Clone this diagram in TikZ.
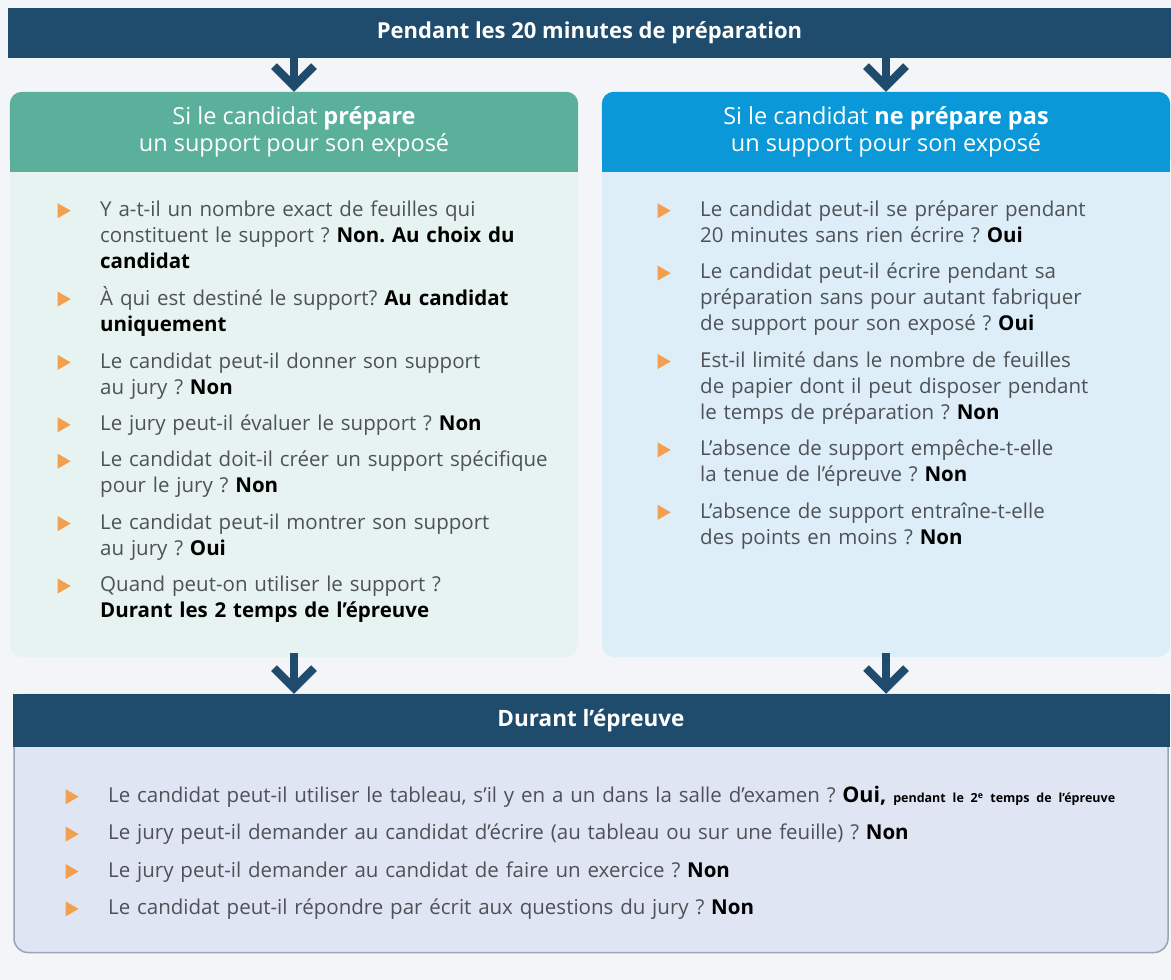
\documentclass[tikz,border=0pt]{standalone}
\usepackage{fontspec}
\setmainfont{Open Sans}
\frenchspacing
\usetikzlibrary{
  shapes.geometric,
  arrows.meta,
  positioning
}

\definecolor{pagebg}{HTML}{F4F5F9}
\definecolor{darkblue}{HTML}{1F4C6D}
\definecolor{headgreen}{HTML}{5BB09B}
\definecolor{bodygreen}{HTML}{E7F3F0}
\definecolor{headblue}{HTML}{0B98D8}
\definecolor{bodyblue}{HTML}{DDEEF8}
\definecolor{bodylav}{HTML}{E0E5F4}
\definecolor{bordergray}{HTML}{9AA4B4}
\definecolor{bulletorange}{HTML}{F2A050}
\definecolor{textgray}{HTML}{4E5256}

\newcommand{\answer}[1]{\textcolor{black}{\textbf{#1}}}

\tikzset{
  banner/.style = {fill=darkblue, text=white, inner sep=0pt,
    font=\fontsize{22}{26}\selectfont\bfseries},
  card/.style = {rounded corners=12pt, inner sep=0pt,
    minimum width=568pt, minimum height=565pt},
  headtitle/.style = {text=white, align=center, inner sep=0pt,
    font=\fontsize{23.5}{27}\selectfont},
  item/.style = {anchor=north west, text width=#1, align=left, inner sep=0pt,
    text=textgray, font=\fontsize{20.5}{26}\selectfont,
    execute at begin node=\strut, execute at end node=\strut},
  item/.default = 470pt,
  itemafter/.style 2 args = {below=#2 of #1.south west, anchor=north west},
  bullet/.style = {isosceles triangle, isosceles triangle apex angle=60,
    fill=bulletorange, inner sep=0pt, minimum size=13pt},
  flow/.style = {draw=darkblue, line width=8pt,
    -{Straight Barb[length=20pt,width=40pt]}}
}

\begin{document}
\begin{tikzpicture}[x=1pt, y=-1pt]
  \fill[pagebg] (0,0) rectangle (1171,980);
  \useasboundingbox (0,0) rectangle (1171,980);

  \node[banner, minimum width=1163pt, minimum height=50pt] (banner) at (589.5,33)
    {Pendant les 20 minutes de préparation};

  % cards
  \node[card, fill=bodygreen] (leftcard) at (294,374.5) {};
  \fill[headgreen, rounded corners=12pt] (leftcard.north west) rectangle ([yshift=-80pt]leftcard.north east);
  \fill[headgreen] ([yshift=-40pt]leftcard.north west) rectangle ([yshift=-80pt]leftcard.north east);
  \node[headtitle] (lefttitle) at ([yshift=-40pt]leftcard.north)
    {Si le candidat \textbf{prépare}\\un support pour son exposé};

  \node[card, fill=bodyblue] (rightcard) at (886,374.5) {};
  \fill[headblue, rounded corners=12pt] (rightcard.north west) rectangle ([yshift=-80pt]rightcard.north east);
  \fill[headblue] ([yshift=-40pt]rightcard.north west) rectangle ([yshift=-80pt]rightcard.north east);
  \node[headtitle] (righttitle) at ([yshift=-40pt]rightcard.north)
    {Si le candidat \textbf{ne prépare pas}\\un support pour son exposé};

  \node[card, fill=bodylav, draw=bordergray, line width=1.5pt, rounded corners=14pt,
    minimum width=1154pt, minimum height=258pt] (bottomcard) at (591,823.5) {};
  \fill[darkblue] ([xshift=-0.75pt]bottomcard.north west) rectangle ([xshift=0.75pt,yshift=-53pt]bottomcard.north east);
  \node[headtitle, font=\fontsize{22.5}{26}\selectfont\bfseries] (bottomtitle)
    at ([yshift=-27pt]bottomcard.north) {Durant l’épreuve};

  % left items
  \node[item] (l1) at (100,198)
    {Y a-t-il un nombre exact de feuilles qui\\constituent le support ? \answer{Non. Au choix du}\\\answer{candidat}};
  \node[item, itemafter={l1}{10pt}] (l2)
    {À qui est destiné le support? \answer{Au candidat}\\\answer{uniquement}};
  \node[item, itemafter={l2}{10pt}] (l3)
    {Le candidat peut-il donner son support\\au jury ? \answer{Non}};
  \node[item, itemafter={l3}{10pt}] (l4)
    {Le jury peut-il évaluer le support ? \answer{Non}};
  \node[item, itemafter={l4}{10pt}] (l5)
    {Le candidat doit-il créer un support spécifique\\pour le jury ? \answer{Non}};
  \node[item, itemafter={l5}{10pt}] (l6)
    {Le candidat peut-il montrer son support\\au jury ? \answer{Oui}};
  \node[item, itemafter={l6}{10pt}] (l7)
    {Quand peut-on utiliser le support ?\\\answer{Durant les 2 temps de l’épreuve}};

  % right items
  \node[item] (r1) at (700,198)
    {Le candidat peut-il se préparer pendant\\20 minutes sans rien écrire ? \answer{Oui}};
  \node[item, itemafter={r1}{10pt}] (r2)
    {Le candidat peut-il écrire pendant sa\\préparation sans pour autant fabriquer\\de support pour son exposé ? \answer{Oui}};
  \node[item, itemafter={r2}{10pt}] (r3)
    {Est-il limité dans le nombre de feuilles\\de papier dont il peut disposer pendant\\le temps de préparation ? \answer{Non}};
  \node[item, itemafter={r3}{10pt}] (r4)
    {L’absence de support empêche-t-elle\\la tenue de l’épreuve ? \answer{Non}};
  \node[item, itemafter={r4}{10pt}] (r5)
    {L’absence de support entraîne-t-elle\\des points en moins ? \answer{Non}};

  % bottom items
  \node[item=1050pt] (d1) at (108,784)
    {Le candidat peut-il utiliser le tableau, s’il y en a un dans la salle d’examen ? \answer{\fontsize{21.5}{26}\selectfont Oui,} {\color{black}\fontsize{12.5}{26}\selectfont\bfseries pendant le 2\textsuperscript{e} temps de l’épreuve}};
  \node[item=1040pt, itemafter={d1}{11pt}] (d2)
    {Le jury peut-il demander au candidat d’écrire (au tableau ou sur une feuille) ? \answer{Non}};
  \node[item=1040pt, itemafter={d2}{11pt}] (d3)
    {Le jury peut-il demander au candidat de faire un exercice ? \answer{Non}};
  \node[item=1040pt, itemafter={d3}{11pt}] (d4)
    {Le candidat peut-il répondre par écrit aux questions du jury ? \answer{Non}};

  % bullets
  \node[bullet] (bl1) at ([xshift=-38pt,yshift=-12.7pt]l1.north west) {};
  \node[bullet] (bl2) at ([xshift=-38pt,yshift=-12.7pt]l2.north west) {};
  \node[bullet] (bl3) at ([xshift=-38pt,yshift=-12.7pt]l3.north west) {};
  \node[bullet] (bl4) at ([xshift=-38pt,yshift=-12.7pt]l4.north west) {};
  \node[bullet] (bl5) at ([xshift=-38pt,yshift=-12.7pt]l5.north west) {};
  \node[bullet] (bl6) at ([xshift=-38pt,yshift=-12.7pt]l6.north west) {};
  \node[bullet] (bl7) at ([xshift=-38pt,yshift=-12.7pt]l7.north west) {};
  \node[bullet] (br1) at ([xshift=-38pt,yshift=-12.7pt]r1.north west) {};
  \node[bullet] (br2) at ([xshift=-38pt,yshift=-12.7pt]r2.north west) {};
  \node[bullet] (br3) at ([xshift=-38pt,yshift=-12.7pt]r3.north west) {};
  \node[bullet] (br4) at ([xshift=-38pt,yshift=-12.7pt]r4.north west) {};
  \node[bullet] (br5) at ([xshift=-38pt,yshift=-12.7pt]r5.north west) {};
  \node[bullet] (bd1) at ([xshift=-38pt,yshift=-12.7pt]d1.north west) {};
  \node[bullet] (bd2) at ([xshift=-38pt,yshift=-12.7pt]d2.north west) {};
  \node[bullet] (bd3) at ([xshift=-38pt,yshift=-12.7pt]d3.north west) {};
  \node[bullet] (bd4) at ([xshift=-38pt,yshift=-12.7pt]d4.north west) {};

  % arrows
  \draw[flow] (banner.south -| leftcard.north) -- (leftcard.north);
  \draw[flow] (banner.south -| rightcard.north) -- (rightcard.north);
  \draw[flow] ([yshift=4pt]leftcard.south) -- (leftcard.south |- bottomcard.north);
  \draw[flow] ([yshift=4pt]rightcard.south) -- (rightcard.south |- bottomcard.north);
\end{tikzpicture}
\end{document}
